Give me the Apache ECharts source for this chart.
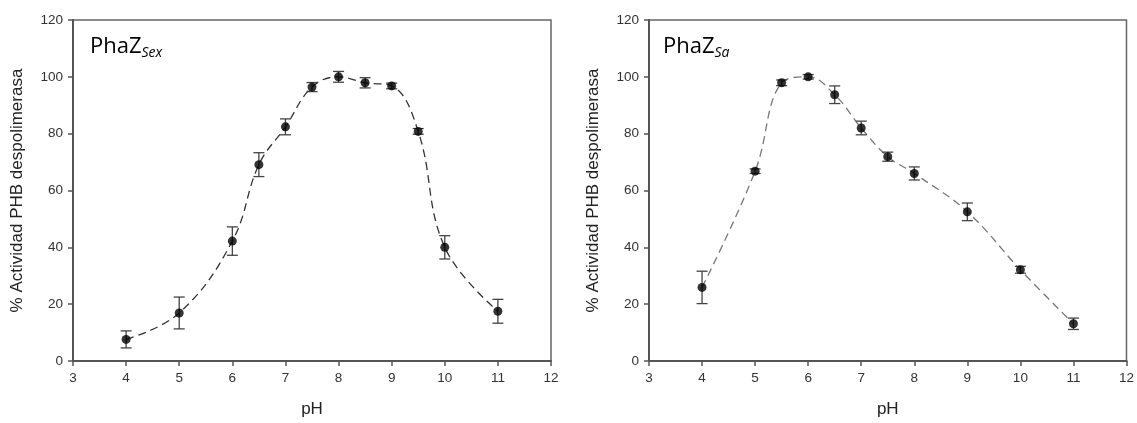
<!DOCTYPE html>
<html>
<head>
<meta charset="utf-8">
<script src="https://cdn.jsdelivr.net/npm/echarts@6/dist/echarts.min.js"></script>
<style>
  html, body { margin: 0; padding: 0; background: #fff; }
  #chart { width: 1137px; height: 423px; }
</style>
</head>
<body>
<div id="chart"></div>
<script>
const chart = echarts.init(document.getElementById('chart'))

// PhaZ Sex
const sexPH = [4, 5, 6, 6.5, 7, 7.5, 8, 8.5, 9, 9.5, 10, 11]
const sexAct = [7.6, 16.9, 42.2, 69.1, 82.4, 96.4, 100, 97.9, 96.8, 80.8, 40.0, 17.5]
const sexErr = [3.0, 5.6, 5.0, 4.2, 2.8, 1.6, 1.9, 1.8, 1.0, 1.0, 4.1, 4.2]

// PhaZ Sa
const saPH = [4, 5, 5.5, 6, 6.5, 7, 7.5, 8, 9, 10, 11]
const saAct = [25.9, 66.8, 97.9, 100, 93.7, 82.0, 71.9, 66.0, 52.5, 32.1, 13.1]
const saErr = [5.7, 0.8, 1.0, 0.8, 3.1, 2.4, 1.6, 2.3, 3.1, 1.2, 2.0]

const yName = '% Actividad PHB despolimerasa'
const xName = 'pH'

const pts = (xs, ys) => xs.map((x, i) => [x, ys[i]])
const bars = (xs, ys, es) => xs.map((x, i) => [x, ys[i] - es[i], ys[i] + es[i]])

const errBar = (params, api) => {
  let x = api.value(0)
  let top = api.coord([x, api.value(2)])
  let bot = api.coord([x, api.value(1)])
  let w = 5.5
  let st = { stroke: '#444', lineWidth: 1.3 }
  return {
    type: 'group',
    children: [
      { type: 'line', shape: { x1: top[0], y1: top[1], x2: bot[0], y2: bot[1] }, style: st },
      { type: 'line', shape: { x1: top[0] - w, y1: top[1], x2: top[0] + w, y2: top[1] }, style: st },
      { type: 'line', shape: { x1: bot[0] - w, y1: bot[1], x2: bot[0] + w, y2: bot[1] }, style: st }
    ]
  }
}

const xAxisOf = (idx) => ({
  type: 'value',
  gridIndex: idx,
  min: 3,
  max: 12,
  interval: 1,
  name: xName,
  nameLocation: 'middle',
  nameGap: 40,
  nameTextStyle: { fontFamily: 'Liberation Sans', fontSize: 17, color: '#222' },
  axisLine: { onZero: false, lineStyle: { color: '#555', width: 2 } },
  axisTick: { inside: false, length: 5, lineStyle: { color: '#555', width: 1.5 } },
  axisLabel: { margin: 10, fontFamily: 'Liberation Sans', fontSize: 13.5, color: '#333' },
  splitLine: { show: false }
})

const yAxisOf = (idx) => ({
  type: 'value',
  gridIndex: idx,
  min: 0,
  max: 120,
  interval: 20,
  name: yName,
  nameLocation: 'middle',
  nameGap: 47,
  nameTextStyle: { fontFamily: 'Liberation Sans', fontSize: 17, color: '#222' },
  axisLine: { onZero: false, lineStyle: { color: '#555', width: 2 } },
  axisTick: { inside: false, length: 5, lineStyle: { color: '#555', width: 1.5 } },
  axisLabel: { margin: 10, fontFamily: 'Liberation Sans', fontSize: 13.5, color: '#333' },
  splitLine: { show: false }
})

const seriesOf = (idx, xs, ys, es, lineColor) => [
  {
    type: 'line',
    xAxisIndex: idx,
    yAxisIndex: idx,
    data: pts(xs, ys),
    smooth: 0.4,
    showSymbol: false,
    lineStyle: { color: lineColor, width: 1.3, type: [8, 5] },
    z: 2
  },
  {
    type: 'custom',
    xAxisIndex: idx,
    yAxisIndex: idx,
    data: bars(xs, ys, es),
    renderItem: errBar,
    encode: { x: 0, y: [1, 2] },
    z: 3
  },
  {
    type: 'scatter',
    xAxisIndex: idx,
    yAxisIndex: idx,
    data: pts(xs, ys),
    symbol: 'circle',
    symbolSize: 9,
    itemStyle: { color: '#000' },
    z: 4
  }
]

const titleText = (left, sub) => ({
  type: 'text',
  left: left,
  top: 36,
  style: {
    text: '{a|PhaZ}{b|' + sub + '}',
    rich: {
      a: { fontFamily: 'Open Sans', fontSize: 22, lineHeight: 26, color: '#111' },
      b: { fontFamily: 'Open Sans', fontSize: 14, lineHeight: 14, fontStyle: 'italic', color: '#111', verticalAlign: 'bottom' }
    }
  }
})

let option = {
  backgroundColor: '#fff',
  animation: false,
  grid: [
    { left: 73, right: 586, top: 20, bottom: 59.5, show: true, borderColor: '#666', borderWidth: 1.5 },
    { left: 649, right: 10, top: 20, bottom: 59.5, show: true, borderColor: '#666', borderWidth: 1.5 }
  ],
  xAxis: [xAxisOf(0), xAxisOf(1)],
  yAxis: [yAxisOf(0), yAxisOf(1)],
  series: [
    ...seriesOf(0, sexPH, sexAct, sexErr, '#333'),
    ...seriesOf(1, saPH, saAct, saErr, '#777')
  ],
  graphic: [titleText(90, 'Sex'), titleText(663, 'Sa')]
}

chart.setOption(option)
</script>
</body>
</html>
